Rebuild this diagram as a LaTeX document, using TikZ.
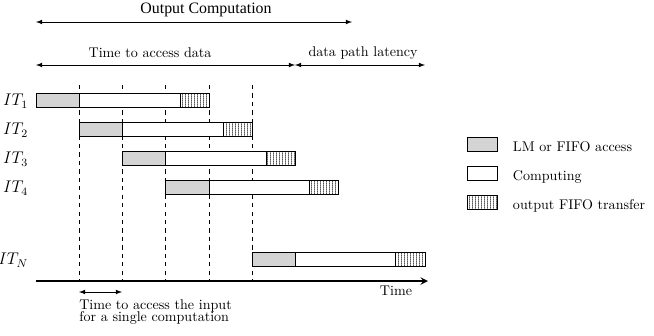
\documentclass[tikz,border=0pt]{standalone}
\usepackage{fontspec}
\usepackage{amsmath}
\usepackage{tikz}
\usetikzlibrary{arrows,patterns,calc}
\newfontfamily\timesfont{Liberation Serif}

\pgfdeclarepatternformonly{fine vlines}{\pgfpointorigin}{\pgfqpoint{2.4pt}{1pt}}{\pgfqpoint{2.4pt}{1pt}}%
{
	\pgfsetlinewidth{0.45pt}
	\pgfpathmoveto{\pgfqpoint{1.2pt}{-0.5pt}}
	\pgfpathlineto{\pgfqpoint{1.2pt}{1.5pt}}
	\pgfusepath{stroke}
}

\tikzset{
	access/.style={draw, fill=black!17, line width=0.6pt},
	compute/.style={draw, fill=white, line width=0.6pt},
	transfer/.style={draw, pattern=fine vlines, line width=0.6pt},
	span/.style={<->, >=latex, line width=0.5pt},
	tick/.style={dashed, line width=0.5pt},
	itlabel/.style={anchor=east, font=\large},
	legtext/.style={anchor=base west}
}

\begin{document}
\begin{tikzpicture}[x=0.025cm, y=-0.025cm]
	
	\useasboundingbox (0,0) rectangle (654,336);
	
	% top spans
	\coordinate (oc1) at (36,22);
	\coordinate (oc2) at (352,22);
	\coordinate (ta1) at (36,65);
	\coordinate (ta2) at (295,65);
	\coordinate (dp2) at (425,65);
	
	\draw[span] (oc1) -- (oc2);
	\draw[span] (ta1) -- (ta2);
	\draw[span] (ta2) -- (dp2);
	\node (occ) at (206,10) {\timesfont\fontsize{11.3}{13}\selectfont Output Computation};
	\node (tad) at (150,53) {Time to access data};
	\node (dpl) at (363,53) {data path latency};
	
	% time slots
	\coordinate (t0) at (36,281);
	\coordinate (t1) at (79,85);
	\coordinate (t2) at (122,85);
	\coordinate (t3) at (165,85);
	\coordinate (t4) at (209,85);
	\coordinate (t5) at (252,85);
	\coordinate (tend) at (428,281);
	
	\draw[tick] (t1) -- (t1 |- t0);
	\draw[tick] (t2) -- (t2 |- t0);
	\draw[tick] (t3) -- (t3 |- t0);
	\draw[tick] (t4) -- (t4 |- t0);
	\draw[tick] (t5) -- (t5 |- t0);
	
	% iterations
	\draw[compute] (79,93) rectangle (209,107);
	\draw[access] (36,93) rectangle (79,107);
	\draw[transfer] (180,93) rectangle (209,107);
	
	\draw[compute] (122,122) rectangle (252,136);
	\draw[access] (79,122) rectangle (122,136);
	\draw[transfer] (223,122) rectangle (252,136);
	
	\draw[compute] (165,151) rectangle (295,165);
	\draw[access] (122,151) rectangle (165,165);
	\draw[transfer] (266,151) rectangle (295,165);
	
	\draw[compute] (209,180) rectangle (338,194);
	\draw[access] (165,180) rectangle (209,194);
	\draw[transfer] (309,180) rectangle (338,194);
	
	\draw[compute] (295,252) rectangle (425,266);
	\draw[access] (252,252) rectangle (295,266);
	\draw[transfer] (395,252) rectangle (425,266);
	
	\node[itlabel] (it1) at (33,101) {$IT_1$};
	\node[itlabel] (it2) at (33,130) {$IT_2$};
	\node[itlabel] (it3) at (33,159) {$IT_3$};
	\node[itlabel] (it4) at (33,188) {$IT_4$};
	\node[itlabel] (itn) at (33,260) {$IT_N$};
	
	% time axis
	\draw[->, >=stealth, line width=1.3pt] (t0) -- (tend);
	\node (time) at (396,291) {Time};
	
	\coordinate (sa1) at (79,292);
	\coordinate (sa2) at (122,292);
	\draw[span] (sa1) -- (sa2);
	\node[anchor=north west, inner sep=0pt, align=left] (single) at (79,299)
		{Time to access the input\\[-3pt] for a single computation};
	
	% legend
	\draw[access] (467,137) rectangle (497,151);
	\draw[compute] (467,166) rectangle (497,180);
	\draw[transfer] (467,195) rectangle (497,209);
	\node[legtext] (lg1) at (508,151) {LM or FIFO access};
	\node[legtext] (lg2) at (508,180) {Computing};
	\node[legtext] (lg3) at (508,209) {output FIFO transfer};
	
\end{tikzpicture}
\end{document}
